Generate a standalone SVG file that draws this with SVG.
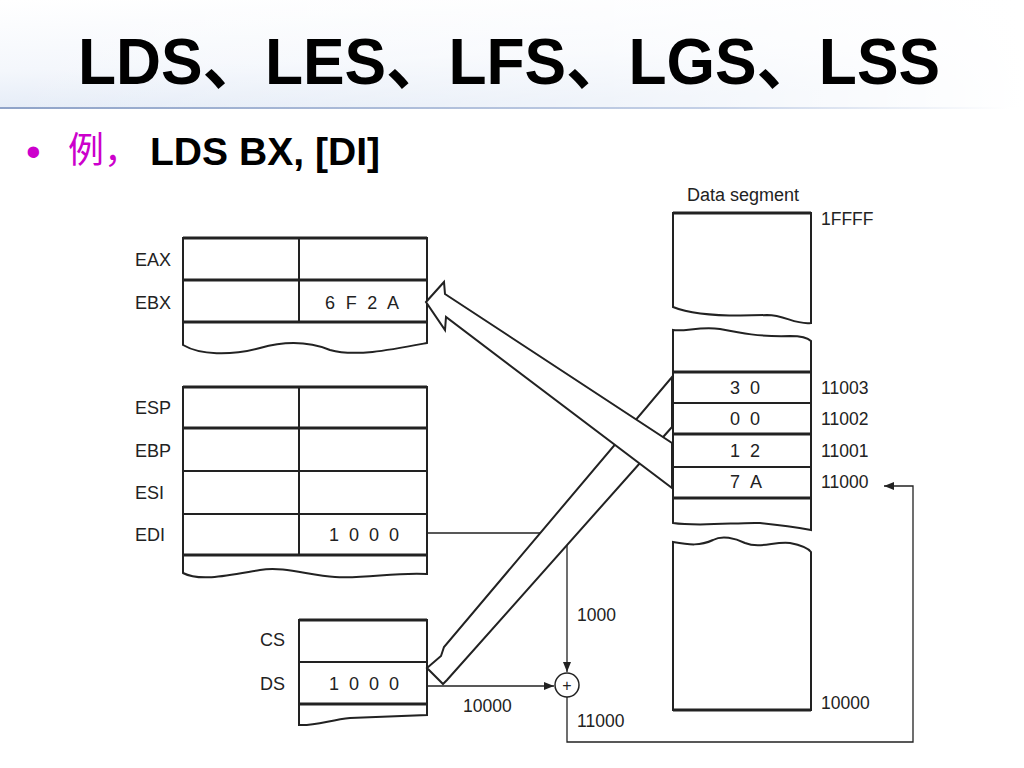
<svg xmlns="http://www.w3.org/2000/svg" width="1024" height="768" viewBox="0 0 1024 768">
<defs>
<linearGradient id="hdr" x1="0" y1="0" x2="0.3" y2="1">
<stop offset="0" stop-color="#ffffff"/>
<stop offset="0.6" stop-color="#f4f7fc"/>
<stop offset="1" stop-color="#e2eaf6"/>
</linearGradient>
<linearGradient id="hdrFade" x1="0" y1="0" x2="1" y2="0">
<stop offset="0" stop-color="#ffffff" stop-opacity="0"/>
<stop offset="0.6" stop-color="#ffffff" stop-opacity="0.5"/>
<stop offset="1" stop-color="#ffffff" stop-opacity="1"/>
</linearGradient>
<linearGradient id="rule" x1="0" y1="0" x2="1" y2="0">
<stop offset="0" stop-color="#8fa3c8"/>
<stop offset="0.7" stop-color="#c4d0e6"/>
<stop offset="1" stop-color="#ffffff"/>
</linearGradient>
<marker id="ah" viewBox="0 0 10 8" refX="10" refY="4" markerWidth="10" markerHeight="8" markerUnits="userSpaceOnUse" orient="auto">
<path d="M0,0 L10,4 L0,8 Z" fill="#222"/>
</marker>
<style>
.lbl{font-family:"Liberation Sans",Arial,sans-serif;font-size:18px;fill:#222}
.val{font-family:"Liberation Sans",Arial,sans-serif;font-size:18px;fill:#222;text-anchor:middle}
.adr{font-family:"Liberation Sans",Arial,sans-serif;font-size:17.5px;fill:#222}
.box{fill:#fff;stroke:#222;stroke-width:2}
.thick{stroke:#222;stroke-width:3;fill:none}
.thin{stroke:#222;stroke-width:2;fill:none}
.wire{stroke:#222;stroke-width:1.3;fill:none}
.big{fill:#fff;stroke:#222;stroke-width:2;stroke-linejoin:miter}
</style>
</defs>
<rect width="1024" height="768" fill="#fff"/>
<rect x="0" y="0" width="1024" height="108" fill="url(#hdr)"/>
<rect x="0" y="0" width="1024" height="108" fill="url(#hdrFade)"/>
<rect x="0" y="107" width="1010" height="2" fill="url(#rule)"/>

<g id="title">
<text x="78" y="84" textLength="862" lengthAdjust="spacingAndGlyphs" style="font-family:'Liberation Sans','Noto Sans CJK SC',sans-serif;font-weight:bold;font-size:64px;fill:#000">LDS、LES、LFS、LGS、LSS</text>
</g>
<g id="subtitle">
<text x="26" y="166" style="font-family:'Liberation Sans',sans-serif;font-size:42px;fill:#cc00cc">•</text>
<text x="68" y="163" style="font-family:'Noto Sans CJK SC',sans-serif;font-size:36px;fill:#cc00cc">例，</text>
<text x="150" y="165" textLength="230" lengthAdjust="spacingAndGlyphs" style="font-family:'Liberation Sans',sans-serif;font-weight:bold;font-size:39px;fill:#000">LDS BX, [DI]</text>
</g>

<g id="connectors">
<path class="wire" d="M427,533 H567 V672" marker-end="url(#ah)"/>
<path class="wire" d="M427,686 H554" marker-end="url(#ah)"/>
<path class="wire" d="M567,697 V742 H913 V486 H884" marker-end="url(#ah)"/>
<text class="adr" x="577" y="621">1000</text>
<text class="adr" x="463" y="712">10000</text>
<text class="adr" x="577" y="727">11000</text>
</g>

<g id="adder">
<circle cx="567" cy="685" r="12" fill="#fff" stroke="#222" stroke-width="1.5"/>
<text x="567" y="691" style="font-family:'Liberation Sans',sans-serif;font-size:16px;fill:#222;text-anchor:middle">+</text>
</g>

<g id="regs1">
<path class="box" d="M183,238 H427 V343 C390,350 355,357 330,350 C310,342 285,341 260,348 C230,356 200,355 183,345 Z"/>
<path class="thick" d="M183,238 H427"/>
<path class="thick" d="M183,280 H427"/>
<path class="thick" d="M183,322 H427"/>
<path class="thin" d="M299,238 V322"/>
<text class="lbl" x="135" y="266">EAX</text>
<text class="lbl" x="135" y="309">EBX</text>
<text class="val" x="362" y="309" textLength="74" lengthAdjust="spacing">6 F 2 A</text>
</g>

<g id="regs2">
<path class="box" d="M183,387 H427 V574 C395,572 365,579 335,577 C310,576 285,566 260,570 C230,575 200,582 183,573 Z"/>
<path class="thick" d="M183,387 H427"/>
<path class="thick" d="M183,428 H427"/>
<path class="thin" d="M183,471 H427"/>
<path class="thin" d="M183,514 H427"/>
<path class="thick" d="M183,555 H427"/>
<path class="thin" d="M299,387 V555"/>
<text class="lbl" x="135" y="414">ESP</text>
<text class="lbl" x="135" y="457">EBP</text>
<text class="lbl" x="135" y="499">ESI</text>
<text class="lbl" x="135" y="541">EDI</text>
<text class="val" x="364" y="541" textLength="70" lengthAdjust="spacing">1 0 0 0</text>
</g>

<g id="segregs">
<path class="box" d="M299,620 H427 V715 C400,716 375,717 350,718 C330,720 315,726 299,725 Z"/>
<path class="thick" d="M299,620 H427"/>
<path class="thin" d="M299,662 H427"/>
<path class="thick" d="M299,704 H427"/>
<text class="lbl" x="260" y="646">CS</text>
<text class="lbl" x="260" y="690">DS</text>
<text class="val" x="364" y="690" textLength="70" lengthAdjust="spacing">1 0 0 0</text>
</g>

<g id="mem-top">
<text x="743" y="201" style="font-family:'Liberation Sans',sans-serif;font-size:18px;fill:#222;text-anchor:middle">Data segment</text>
<path class="box" d="M673,213 H811 V323 C795,325 785,315 767,315 C720,317 690,314 673,307 Z"/>
<path class="thick" d="M673,213 H811"/>
<text class="adr" x="821" y="225">1FFFF</text>
</g>

<g id="mem-mid">
<path class="box" d="M673,330 C685,332 700,326 720,329 C740,333 760,337 790,336 C800,336 808,338 811,341 V530 C800,528 780,525 760,523 C740,522 700,527 673,523 Z"/>
<path class="thick" d="M673,372 H811"/>
<path class="thin" d="M673,403 H811"/>
<path class="thick" d="M673,434 H811"/>
<path class="thin" d="M673,467 H811"/>
<path class="thick" d="M673,498 H811"/>
<text class="val" x="745" y="394" textLength="30" lengthAdjust="spacing">3 0</text>
<text class="val" x="745" y="425" textLength="30" lengthAdjust="spacing">0 0</text>
<text class="val" x="745" y="457" textLength="30" lengthAdjust="spacing">1 2</text>
<text class="val" x="746" y="488" textLength="32" lengthAdjust="spacing">7 A</text>
<text class="adr" x="821" y="394">11003</text>
<text class="adr" x="821" y="425">11002</text>
<text class="adr" x="821" y="457">11001</text>
<text class="adr" x="821" y="488">11000</text>
</g>

<g id="mem-bot">
<path class="box" d="M673,542 C690,545 700,546 713,540 C722,535 735,538 745,543 C760,549 775,541 790,543 C800,545 808,548 811,552 V710 H673 Z"/>
<path class="thick" d="M673,710 H811"/>
<text class="adr" x="821" y="709">10000</text>
</g>

<g id="transfer-arrows">
<path class="big" d="M427,668 L441,656 L444,647 L672,377 L672,427 L447,680 L443,684 Z"/>
<path class="big" d="M426,302 L444,282 L445,294 L672,443 L672,488 L446,317 L445,330 Z"/>
</g>
</svg>
